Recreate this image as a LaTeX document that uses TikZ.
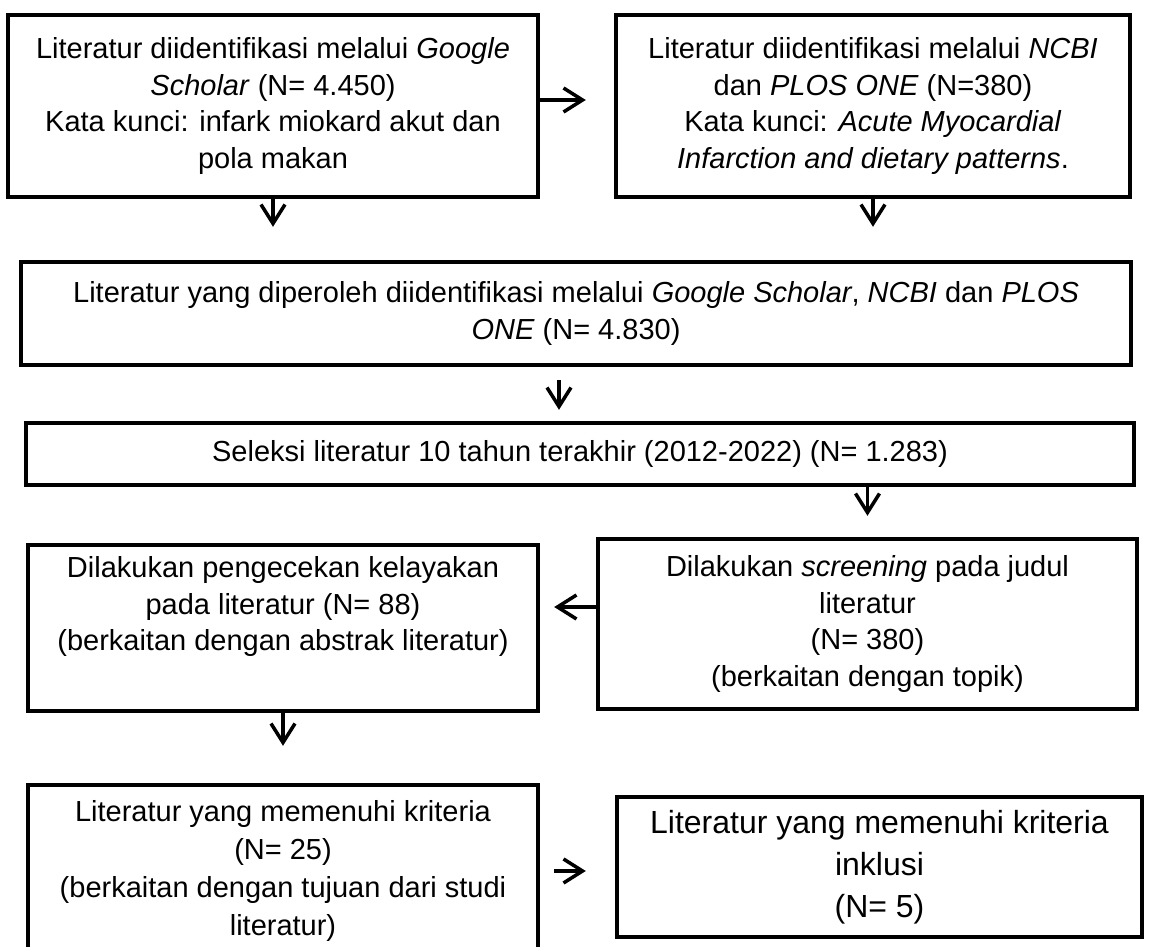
\documentclass[tikz,border=0pt]{standalone}
\usepackage{fontspec}
\setmainfont{Liberation Sans}
\usepackage{tikz}
\usetikzlibrary{arrows.meta}

\tikzset{
	box/.style={draw, line width=2.5pt, align=center, inner sep=0pt,
		font=\fontsize{16.5}{20.8}\selectfont},
	arr/.style={-{Straight Barb[length=3.8mm, width=4.8mm]}, line width=2pt}
}

\begin{document}
\begin{tikzpicture}[x=0.2mm, y=-0.2mm]
	\clip (0,0) rectangle (1151,947);

	\node[box, minimum width=10.6cm, minimum height=3.64cm] (google) at (273,106)
		{Literatur diidentifikasi melalui \textit{Google}\\
		 \textit{Scholar} (N= 4.450)\\
		 Kata kunci: infark miokard akut dan\\
		 pola makan};
	\node[box, minimum width=10.28cm, minimum height=3.64cm] (ncbi) at (873,106)
		{Literatur diidentifikasi melalui \textit{NCBI}\\
		 dan \textit{PLOS ONE} (N=380)\\
		 Kata kunci: \textit{Acute Myocardial}\\
		 \textit{Infarction and dietary patterns}.};
	\node[box, minimum width=22.2cm, minimum height=2.06cm] (gabung) at (576,313.5)
		{Literatur yang diperoleh diidentifikasi melalui \textit{Google Scholar}, \textit{NCBI} dan \textit{PLOS}\\
		 \textit{ONE} (N= 4.830)};
	\node[box, minimum width=22.16cm, minimum height=1.24cm] (seleksi) at (580,454)
		{Seleksi literatur 10 tahun terakhir (2012-2022) (N= 1.283)};
	\node[box, minimum width=10.78cm, minimum height=3.4cm] (screening) at (867.5,624)
		{Dilakukan \textit{screening} pada judul\\
		 literatur\\
		 (N= 380)\\
		 (berkaitan dengan topik)};
	% text sits in the upper part of this box
	\node[box, minimum width=10.2cm, text height=2.12cm, text depth=1.2cm] (cek) at (283,628)
		{Dilakukan pengecekan kelayakan\\
		 pada literatur (N= 88)\\
		 (berkaitan dengan abstrak literatur)};
	\node[box, minimum width=10.2cm, minimum height=3.44cm,
		font=\fontsize{16.5}{21.8}\selectfont] (kriteria) at (283,871)
		{Literatur yang memenuhi kriteria\\
		 (N= 25)\\
		 (berkaitan dengan tujuan dari studi\\
		 literatur)};
	\node[box, minimum width=10.5cm, minimum height=2.8cm,
		font=\fontsize{18.2}{23.9}\selectfont] (inklusi) at (879.5,867)
		{Literatur yang memenuhi kriteria\\
		 inklusi\\
		 (N= 5)};

	\path[arr]
		([yshift=1.2mm]google.east) edge [shorten >=5.6mm] ([yshift=1.2mm]ncbi.west)
		(google.south) edge [shorten >=6.6mm] (google.south |- gabung.north)
		(ncbi.south) edge [shorten >=6.6mm] (ncbi.south |- gabung.north)
		([xshift=-3.4mm]gabung.south) edge [shorten <=2.6mm, shorten >=2.2mm] ([xshift=-3.4mm]gabung.south |- seleksi.north)
		(screening.north |- seleksi.south) edge [shorten >=4.2mm] (screening.north)
		([yshift=3.4mm]screening.west) edge [shorten >=2.8mm] ([yshift=3.4mm]screening.west -| cek.east)
		(cek.south) edge [shorten >=7.4mm] (cek.south |- kriteria.north)
		(kriteria.east) edge [shorten <=2.8mm, shorten >=5.8mm] (kriteria.east -| inklusi.west);
\end{tikzpicture}
\end{document}
